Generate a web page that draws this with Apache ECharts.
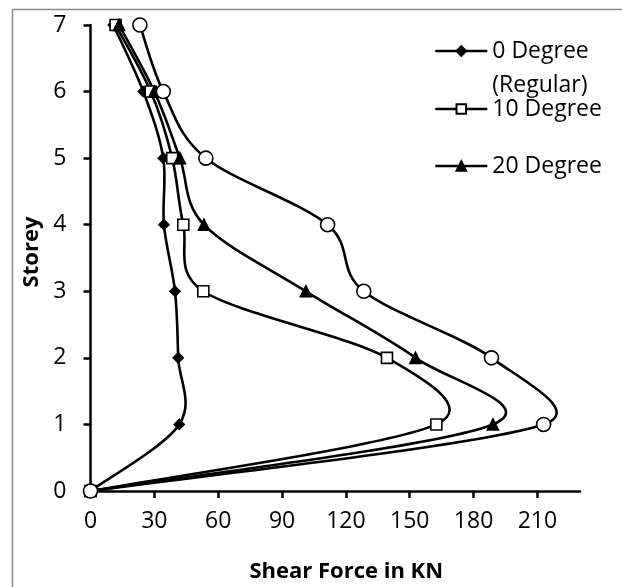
<!DOCTYPE html>
<html>
<head>
<meta charset="utf-8">
<script src="https://cdn.jsdelivr.net/npm/echarts@6/dist/echarts.min.js"></script>
<style>
html,body{margin:0;padding:0;background:#fff;}
#chart{width:622px;height:587px;}
</style>
</head>
<body>
<div id="chart"></div>
<script>
// Storey levels
const storeys = [0, 1, 2, 3, 4, 5, 6, 7];
// Shear force (kN) per storey
const deg0 = [0, 41.7, 41.2, 39.7, 34.5, 34.2, 24.8, 10.7];
const deg10 = [0, 162.5, 139.3, 53.0, 43.6, 38.4, 28.3, 11.8];
const deg20 = [0, 189.1, 152.7, 101.2, 53.3, 42.0, 30.0, 13.4];
const deg30 = [0, 212.9, 188.4, 128.4, 111.4, 54.2, 34.2, 23.2];
const seriesNames = ['0 Degree\n(Regular)', '10 Degree', '20 Degree', '30 Degree'];
const xTicks = [0, 30, 60, 90, 120, 150, 180, 210];
const yTicks = [0, 1, 2, 3, 4, 5, 6, 7];

const FONT = 'Open Sans';
const TENSION = 1 / 6;
const LW = 2.6;
function pts(vals) { return vals.map((v, i) => [v, storeys[i]]); }

// Smoothed curve: Catmull-Rom style tangents, arms limited to half the adjacent segment
function curveRender(params, api) {
  const i = params.dataIndexInside;
  const n = params.dataInsideLength;
  if (i >= n - 1) return null;
  const P = function (k) {
    k = Math.max(0, Math.min(n - 1, k));
    return api.coord([api.value(0, k), api.value(1, k)]);
  };
  const p0 = P(i - 1), p1 = P(i), p2 = P(i + 1), p3 = P(i + 2);
  const seg = Math.hypot(p2[0] - p1[0], p2[1] - p1[1]);
  function arm(prev, next) {
    let ax = (next[0] - prev[0]) * TENSION, ay = (next[1] - prev[1]) * TENSION;
    const len = Math.hypot(ax, ay), lim = seg * 0.5;
    if (len > lim && len > 0) { ax *= lim / len; ay *= lim / len; }
    return [ax, ay];
  }
  const a1 = arm(p0, p2);
  const a2 = arm(p1, p3);
  return {
    type: 'bezierCurve',
    shape: {
      x1: p1[0], y1: p1[1], x2: p2[0], y2: p2[1],
      cpx1: p1[0] + a1[0], cpy1: p1[1] + a1[1],
      cpx2: p2[0] - a2[0], cpy2: p2[1] - a2[1]
    },
    style: { stroke: '#000', lineWidth: LW, fill: 'none' },
    silent: true
  };
}

function curveSeries(id, vals) {
  return {
    id: id, name: id, type: 'custom', data: pts(vals), renderItem: curveRender,
    encode: { x: 0, y: 1 }, clip: false, z: 1, silent: true
  };
}
function markSeries(name, vals, symbol, size, fill) {
  return {
    name: name, type: 'line', data: pts(vals), smooth: false,
    symbol: symbol, symbolSize: size, showSymbol: true,
    lineStyle: { color: '#000', width: LW, opacity: 0 },
    itemStyle: { color: fill, borderColor: '#000', borderWidth: 1.6 },
    emphasis: { disabled: true }, clip: false, z: 3
  };
}

const chart = echarts.init(document.getElementById('chart'), null, { renderer: 'canvas' });
function legendBox(name, top) {
  return {
    data: [{ name: name }], orient: 'vertical', left: 434, top: top, padding: 0,
    itemWidth: 52, itemHeight: 12, itemGap: 0, selectedMode: false,
    lineStyle: { color: '#000', width: LW, opacity: 1 },
    textStyle: { fontFamily: FONT, fontSize: 23, color: '#000', lineHeight: 34 },
    formatter: function (n) { return n === seriesNames[0] ? ' \n0 Degree\n(Regular)' : n; }
  };
}
chart.setOption({
  animation: false,
  backgroundColor: '#fff',
  graphic: [{ type: 'rect', shape: { x: 12.5, y: 9.5, width: 800, height: 800 }, style: { fill: 'none', stroke: '#8a8a8a', lineWidth: 1.5 }, silent: true, z: -1 }],
  grid: { left: 90.5, right: 42, top: 25, bottom: 96, containLabel: false, outerBoundsMode: 'none' },
  legend: [legendBox(seriesNames[0], 0), legendBox(seriesNames[1], 92), legendBox(seriesNames[2], 149)],
  xAxis: {
    type: 'value', min: 0, max: 230, interval: 30,
    name: 'Shear Force in KN', nameLocation: 'middle', nameGap: 70,
    nameTextStyle: { fontFamily: FONT, fontSize: 22, fontWeight: 'bold', color: '#000', padding: [0, 0, 0, 22] },
    axisLine: { show: true, lineStyle: { color: '#000', width: 2.5 } },
    axisTick: { show: true, length: 7, inside: false, lineStyle: { color: '#000', width: 2.5 }, customValues: xTicks },
    axisLabel: { fontFamily: FONT, fontSize: 23, color: '#000', margin: 19, customValues: xTicks },
    splitLine: { show: false }
  },
  yAxis: {
    type: 'value', min: 0, max: 7, interval: 1,
    name: 'Storey', nameLocation: 'middle', nameGap: 35, nameRotate: 90,
    nameTextStyle: { fontFamily: FONT, fontSize: 22, fontWeight: 'bold', color: '#000', padding: [0, 0, 0, 12] },
    axisLine: { show: true, lineStyle: { color: '#000', width: 2.5 } },
    axisTick: { show: true, length: 7, inside: false, lineStyle: { color: '#000', width: 2.5 }, customValues: yTicks },
    axisLabel: { fontFamily: FONT, fontSize: 23, color: '#000', margin: 24, customValues: yTicks },
    splitLine: { show: false }
  },
  series: [
    curveSeries('c0', deg0), curveSeries('c10', deg10), curveSeries('c20', deg20), curveSeries('c30', deg30),
    markSeries(seriesNames[0], deg0, 'diamond', 10, '#000'),
    markSeries(seriesNames[1], deg10, 'rect', 11, '#fff'),
    markSeries(seriesNames[2], deg20, 'triangle', 11, '#000'),
    markSeries(seriesNames[3], deg30, 'circle', 14, '#fff')
  ]
});
</script>
</body>
</html>
